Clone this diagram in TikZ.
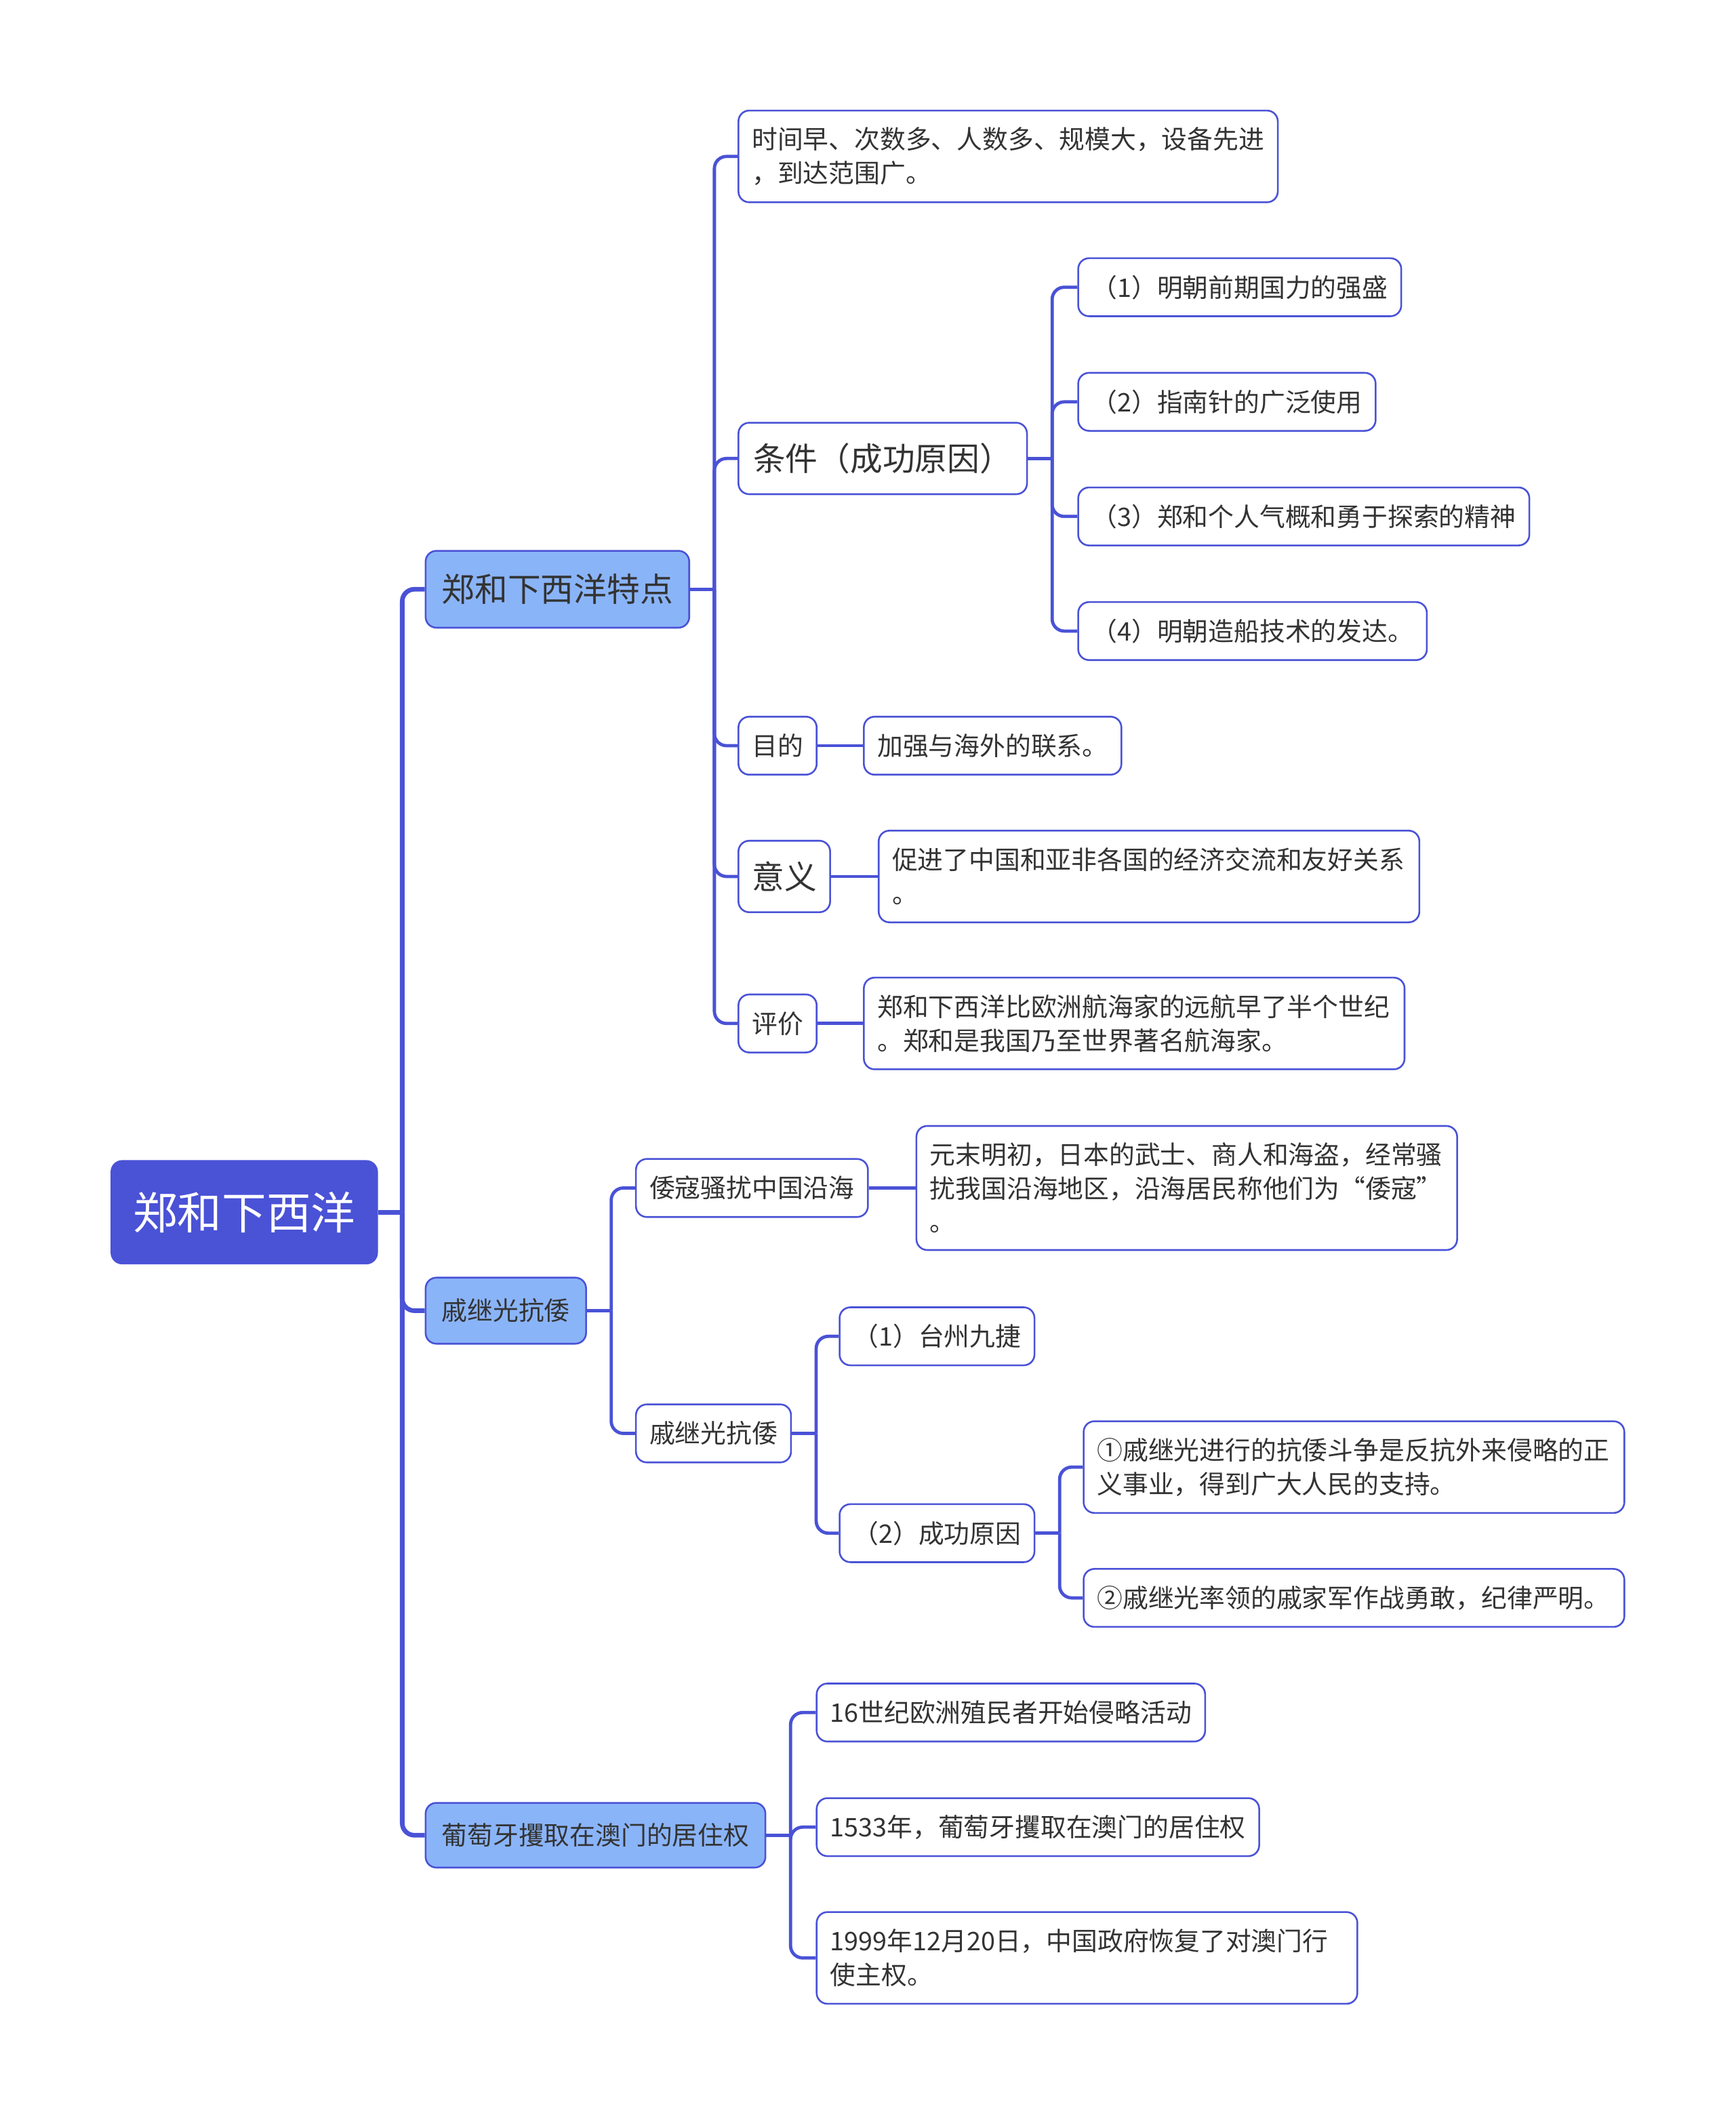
\documentclass[tikz,border=0pt]{standalone}
\usepackage{fontspec}
\setmainfont{Noto Sans CJK SC}
\definecolor{lineblue}{HTML}{4A52D6}
\definecolor{rootblue}{HTML}{4A52D6}
\definecolor{lightblue}{HTML}{8AB4F8}
\definecolor{txt}{HTML}{333333}
\tikzset{
  base/.style={draw=lineblue, line width=1.3pt, rounded corners=8pt, anchor=west, text=txt,
    inner xsep=10pt, inner ysep=0pt, align=left, minimum height=43pt,
    font=\fontsize{19}{25}\selectfont},
  leaf/.style={base, fill=white},
  lone/.style={base, fill=lightblue, inner xsep=12pt},
  rootbox/.style={base, fill=rootblue, text=white, inner xsep=16pt, minimum height=76pt,
    font=\fontsize{33}{40}\selectfont},
  big/.style={font=\fontsize{24}{30}\selectfont, minimum height=53pt},
  wrap/.style={text width=381pt, minimum height=68pt},
  conn/.style={draw=lineblue, line width=2.4pt},
  trunk/.style={draw=lineblue, line width=3.4pt},
  roundconn/.style={rounded corners=9pt},
}
\newcommand\fan[3][conn]{\draw[#1] (#2.east) -- ++(18,0) coordinate (#2-bus);
  \foreach \c in {#3} {\draw[#1,roundconn] (#2-bus) |- (\c.west);}}
\begin{document}
\begin{tikzpicture}[x=1pt,y=1pt]
\useasboundingbox (0,0) rectangle (1287,-1568.5);
\fill[white] (0,0) rectangle (1287,-1568.5);
% root
\node[rootbox] (root) at (82,-899) {郑和下西洋};
% level 1
\node[lone, font=\fontsize{24.5}{30}\selectfont, minimum height=57pt] (tedian) at (315,-437) {郑和下西洋特点};
\node[lone, minimum height=49pt] (qione) at (315,-972) {戚继光抗倭};
\node[lone, minimum height=48pt] (pu) at (315,-1361) {葡萄牙攫取在澳门的居住权};
% under tedian
\node[leaf, minimum height=68pt] (a1) at (547,-116) {时间早、次数多、人数多、规模大，设备先进\\，到达范围广。};
\node[leaf, big, inner xsep=11pt] (a2) at (547,-340) {条件（成功原因）};
\node[leaf] (a3) at (547,-553) {目的};
\node[leaf, big] (a4) at (547,-650) {意义};
\node[leaf] (a5) at (547,-759) {评价};
% under a2
\node[leaf] (b1) at (799,-213) {（1）明朝前期国力的强盛};
\node[leaf] (b2) at (799,-298) {（2）指南针的广泛使用};
\node[leaf] (b3) at (799,-383) {（3）郑和个人气概和勇于探索的精神};
\node[leaf] (b4) at (799,-468) {（4）明朝造船技术的发达。};
\node[leaf] (c1) at (640,-553) {加强与海外的联系。};
\node[leaf, wrap] (d1) at (651,-650) {促进了中国和亚非各国的经济交流和友好关系\\。};
\node[leaf, wrap] (e1) at (640,-759) {郑和下西洋比欧洲航海家的远航早了半个世纪\\。郑和是我国乃至世界著名航海家。};
% under qione
\node[leaf] (f1) at (471,-881) {倭寇骚扰中国沿海};
\node[leaf] (f2) at (471,-1063) {戚继光抗倭};
\node[leaf, wrap, minimum height=92pt] (g1) at (679,-881) {元末明初，日本的武士、商人和海盗，经常骚\\扰我国沿海地区，沿海居民称他们为“倭寇”\\。};
\node[leaf] (h1) at (622,-991) {（1）台州九捷};
\node[leaf] (h2) at (622,-1137) {（2）成功原因};
\node[leaf, wrap] (i1) at (803,-1088) {①戚继光进行的抗倭斗争是反抗外来侵略的正\\义事业，得到广大人民的支持。};
\node[leaf, text width=381pt] (i2) at (803,-1185) {②戚继光率领的戚家军作战勇敢，纪律严明。};
% under pu
\node[leaf] (j1) at (605,-1270) {16世纪欧洲殖民者开始侵略活动};
\node[leaf] (j2) at (605,-1355) {1533年，葡萄牙攫取在澳门的居住权};
\node[leaf, wrap] (j3) at (605,-1452) {1999年12月20日，中国政府恢复了对澳门行\\使主权。};
% connectors
\fan[trunk]{root}{tedian,qione,pu}
\fan{tedian}{a1,a2,a3,a4,a5}
\fan{a2}{b1,b2,b3,b4}
\fan{qione}{f1,f2}
\fan{f2}{h1,h2}
\fan{h2}{i1,i2}
\fan{pu}{j1,j2,j3}
\draw[conn] (a3.east) -- (c1.west);
\draw[conn] (a4.east) -- (d1.west);
\draw[conn] (a5.east) -- (e1.west);
\draw[conn] (f1.east) -- (g1.west);
\end{tikzpicture}
\end{document}
